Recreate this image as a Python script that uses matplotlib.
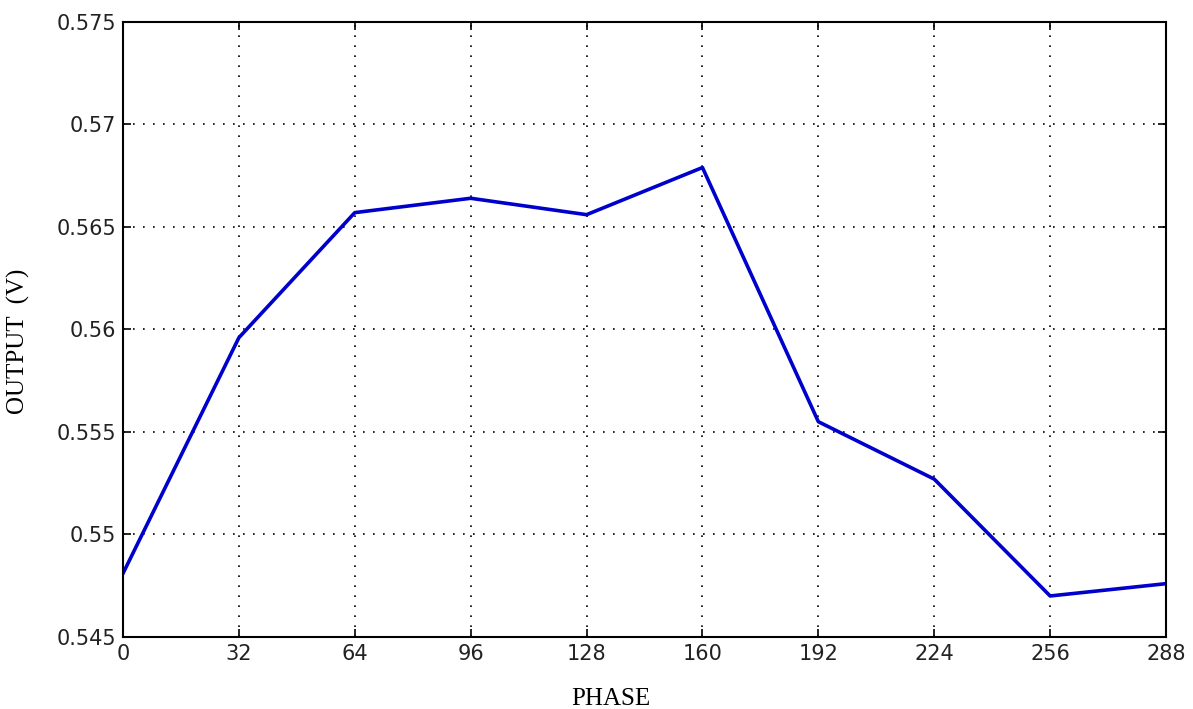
import matplotlib
matplotlib.use('Agg')
import matplotlib.pyplot as plt

# data
phase = [0, 32, 64, 96, 128, 160, 192, 224, 256, 288]
output = [0.5481, 0.5596, 0.5657, 0.5664, 0.5656, 0.5679, 0.5555, 0.5527, 0.5470, 0.5476]
xticks = [0, 32, 64, 96, 128, 160, 192, 224, 256, 288]
yticks = [0.545, 0.55, 0.555, 0.56, 0.565, 0.57, 0.575]
ytick_labels = ['0.545', '0.55', '0.555', '0.56', '0.565', '0.57', '0.575']

fig = plt.figure(figsize = (11.93, 7.09), dpi = 100)
ax = fig.add_axes([0.1031, 0.1016, 0.8743, 0.8674])

ax.plot(phase, output, color = '#0000cc', linewidth = 2.6)

ax.set_xlim(0, 288)
ax.set_ylim(0.545, 0.575)
ax.set_xticks(xticks)
ax.set_yticks(yticks)
ax.set_yticklabels(ytick_labels)
ax.tick_params(direction = 'in', length = 6, width = 1.2, labelsize = 15,
               labelcolor = '#222222', top = True, right = True, pad = 5)
ax.grid(True, color = 'black', linestyle = (0, (1, 5)), linewidth = 1.2)
for s in ax.spines.values():
  s.set_linewidth(1.5)

# labels sit slightly off-centre in the original
ax.set_xlabel('PHASE', fontsize = 18, family = 'Liberation Serif')
ax.xaxis.set_label_coords(0.468, -0.083)
ax.set_ylabel('OUTPUT  (V)', fontsize = 18, family = 'Liberation Serif')
ax.yaxis.set_label_coords(-0.089, 0.48)

fig.savefig('out.png', dpi = 100)
